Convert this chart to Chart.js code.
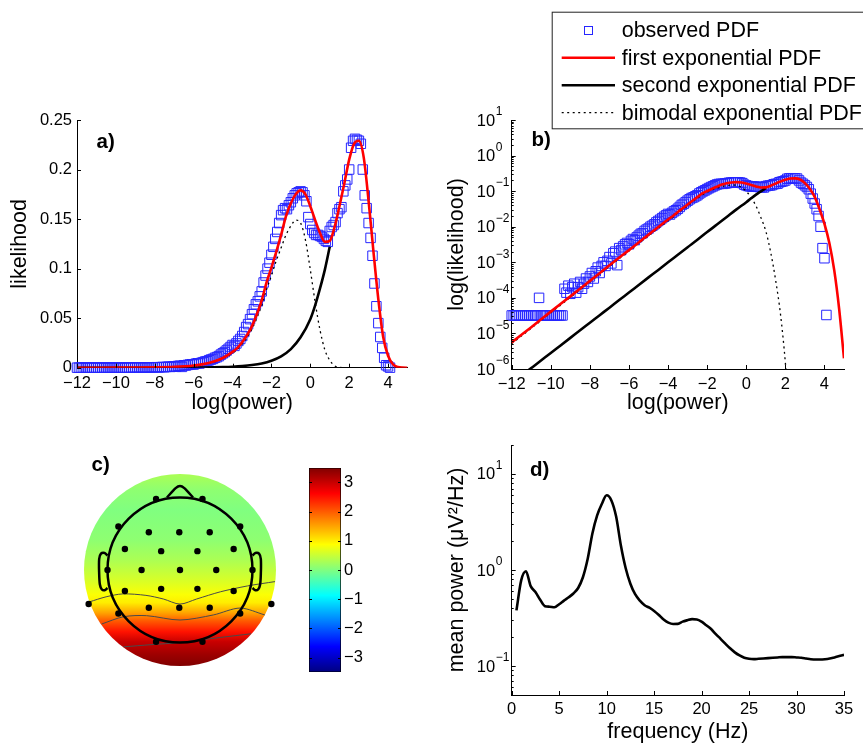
<!DOCTYPE html>
<html>
<head>
<meta charset="utf-8">
<script src="https://cdn.jsdelivr.net/npm/chart.js@4/dist/chart.umd.min.js"></script>
<style>
  html, body { margin: 0; padding: 0; background: #fff; }
  body { width: 863px; height: 743px; position: relative; overflow: hidden; }
  canvas { position: absolute; }
</style>
</head>
<body>
<canvas id="chart-a" width="425" height="320" style="left:0;top:100px"></canvas>
<canvas id="chart-b" width="443" height="420" style="left:420px;top:0"></canvas>
<canvas id="chart-c" width="300" height="262" style="left:0;top:440px"></canvas>
<canvas id="chart-cbar" width="80" height="230" style="left:300px;top:455px"></canvas>
<canvas id="chart-d" width="443" height="323" style="left:420px;top:420px"></canvas>
<script>
// Panels a) and b): distribution of log(power)

// observed PDF (bin centres and likelihood)
const obsX = [
  -12.0, -11.9, -11.8, -11.7, -11.6, -11.5, -11.4, -11.3, -11.2, -11.1,
  -11.0, -10.9, -10.8, -10.7, -10.6, -10.5, -10.4, -10.3, -10.2, -10.1,
  -10.0, -9.9, -9.8, -9.7, -9.6, -9.5, -9.4, -9.3, -9.2, -9.1,
  -9.0, -8.9, -8.8, -8.7, -8.6, -8.5, -8.4, -8.3, -8.2, -8.1,
  -8.0, -7.9, -7.8, -7.7, -7.6, -7.5, -7.4, -7.3, -7.2, -7.1,
  -7.0, -6.9, -6.8, -6.7, -6.6, -6.5, -6.4, -6.3, -6.2, -6.1,
  -6.0, -5.9, -5.8, -5.7, -5.6, -5.5, -5.4, -5.3, -5.2, -5.1,
  -5.0, -4.9, -4.8, -4.7, -4.6, -4.5, -4.4, -4.3, -4.2, -4.1,
  -4.0, -3.9, -3.8, -3.7, -3.6, -3.5, -3.4, -3.3, -3.2, -3.1,
  -3.0, -2.9, -2.8, -2.7, -2.6, -2.5, -2.4, -2.3, -2.2, -2.1,
  -2.0, -1.9, -1.8, -1.7, -1.6, -1.5, -1.4, -1.3, -1.2, -1.1,
  -1.0, -0.9, -0.8, -0.7, -0.6, -0.5, -0.4, -0.3, -0.2, -0.1,
  0.0, 0.1, 0.2, 0.3, 0.4, 0.5, 0.6, 0.7, 0.8, 0.9,
  1.0, 1.1, 1.2, 1.3, 1.4, 1.5, 1.6, 1.7, 1.8, 1.9,
  2.0, 2.1, 2.2, 2.3, 2.4, 2.5, 2.6, 2.7, 2.8, 2.9,
  3.0, 3.1, 3.2, 3.3, 3.4, 3.5, 3.6, 3.7, 3.8, 3.9,
  4.0, 4.1
];
const obsY = [
  3.2e-5, 3.2e-5, 3.2e-5, 3.2e-5, 3.2e-5, 3.2e-5, 3.2e-5, 3.2e-5, 3.2e-5, 3.2e-5,
  3.2e-5, 3.2e-5, 3.2e-5, 3.2e-5, 1.0e-4, 3.2e-5, 3.2e-5, 3.2e-5, 3.2e-5, 3.2e-5,
  3.2e-5, 3.2e-5, 3.2e-5, 3.2e-5, 3.2e-5, 3.2e-5, 3.2e-5, 1.8e-4, 1.4e-4, 2.2e-4,
  1.3e-4, 2.0e-4, 2.5e-4, 1.4e-4, 2.0e-4, 2.8e-4, 1.8e-4, 2.5e-4, 3.5e-4, 2.8e-4,
  4.0e-4, 5.0e-4, 3.5e-4, 5.6e-4, 7.1e-4, 5.0e-4, 7.9e-4, 1.0e-3, 7.9e-4, 1.1e-3,
  1.4e-3, 9.3e-4, 1.8e-3, 2.0e-3, 8.3e-4, 2.5e-3, 2.2e-3, 2.8e-3, 3.2e-3, 3.5e-3,
  3.2e-3, 4.0e-3, 4.5e-3, 4.2e-3, 5.0e-3, 5.6e-3, 6.3e-3, 6.6e-3, 7.6e-3, 8.3e-3,
  8.9e-3, 0.010, 0.0107, 0.0117, 0.0132, 0.0145, 0.0158, 0.0174, 0.0191, 0.0209,
  0.0229, 0.022, 0.0245, 0.027, 0.029, 0.032, 0.036, 0.041, 0.044, 0.049,
  0.054, 0.059, 0.064, 0.067, 0.072, 0.077, 0.086, 0.093, 0.100, 0.106,
  0.114, 0.122, 0.130, 0.137, 0.146, 0.154, 0.159, 0.161, 0.160, 0.164,
  0.167, 0.171, 0.174, 0.176, 0.177, 0.178, 0.177, 0.174, 0.168, 0.152,
  0.145, 0.139, 0.136, 0.134, 0.134, 0.133, 0.132, 0.130, 0.128, 0.127,
  0.138, 0.142, 0.144, 0.147, 0.156, 0.160, 0.162, 0.178, 0.184, 0.190,
  0.200, 0.222, 0.229, 0.231, 0.230, 0.229, 0.226, 0.200, 0.174, 0.161,
  0.146, 0.131, 0.113, 0.085, 0.062, 0.045, 0.031, 0.020, 0.010, 0.0025,
  0.0013, 3.3e-5
];

// fitted curves
const fitX = [
  -12, -11, -10, -9, -8, -7, -6, -5.5, -5, -4.5, -4,
  -3.75, -3.5, -3.25, -3, -2.75, -2.5, -2.25, -2, -1.75, -1.5, -1.25, -1,
  -0.75, -0.5, -0.25, 0, 0.25, 0.5, 0.75, 1, 1.25, 1.5, 1.75, 2,
  2.25, 2.5, 2.75, 3, 3.25, 3.5, 3.75, 4, 4.25, 4.5, 4.75, 5
];
const firstExpY = [
  5.6e-6, 1.5e-5, 4.1e-5, 1.1e-4, 3.0e-4, 8.2e-4, 2.2e-3, 3.6e-3, 6.0e-3, 9.8e-3, 0.016,
  0.020, 0.026, 0.033, 0.042, 0.054, 0.068, 0.086, 0.101, 0.117, 0.134, 0.153, 0.166,
  0.175, 0.179, 0.175, 0.163, 0.149, 0.136, 0.127, 0.128, 0.142, 0.163, 0.186, 0.210,
  0.226, 0.229, 0.212, 0.168, 0.117, 0.069, 0.031, 0.012, 3.5e-3, 6e-4, 5e-5, 2e-6
];
const bimodalY = [
  5.2e-6, 1.4e-5, 3.8e-5, 1.03e-4, 2.8e-4, 7.7e-4, 2.07e-3, 3.4e-3, 5.6e-3, 9.1e-3, 0.0148,
  0.0185, 0.024, 0.0305, 0.039, 0.050, 0.063, 0.079, 0.093, 0.108, 0.121, 0.134, 0.143,
  0.149, 0.146, 0.129, 0.099, 0.066, 0.038, 0.018, 7.5e-3, 1.9e-3, 3.2e-4, 3.5e-5, 1.5e-6,
  2e-8, 1e-10, 1e-12, 1e-14, 1e-16, 1e-18, 1e-20, 1e-22, null, null, null, null
];
const secondX = [
  -12, -11.5, -11, -10.5, -10, -9.5, -9, -8.5, -8, -7.5, -7, -6.5, -6,
  -5.5, -5, -4.5, -4, -3.5, -3, -2.5, -2, -1.5, -1, -0.5, 0, 0.25, 0.5, 0.75, 1
];
const secondExpY = [
  4.0e-7, 6.5e-7, 1.06e-6, 1.73e-6, 2.83e-6, 4.6e-6, 7.5e-6, 1.23e-5, 2.0e-5, 3.26e-5, 5.3e-5, 8.7e-5, 1.41e-4,
  2.31e-4, 3.76e-4, 6.1e-4, 1.0e-3, 1.63e-3, 2.66e-3, 4.3e-3, 7.1e-3, 0.0115, 0.0188, 0.0307, 0.049, 0.063, 0.080, 0.099, 0.122
];

const powerTicks = [-12, -10, -8, -6, -4, -2, 0, 2, 4];
const likelihoodTicks = [0, 0.05, 0.1, 0.15, 0.2, 0.25];
const logLikelihoodExps = [-6, -5, -4, -3, -2, -1, 0, 1];

// Panel c): scalp map
const elecX = [-0.33, 0.31, -0.85, 0.83, -0.43, -0.01, 0.41, -0.76, -0.26, 0.24, 0.74,
  -1.0, -0.53, 0.0, 0.5, 1.0, -0.76, -0.26, 0.24, 0.74, -0.85, -0.43, -0.01, 0.41, 0.83,
  -0.33, 0.31, -1.26, 1.26];
const elecY = [0.98, 0.98, 0.6, 0.6, 0.52, 0.52, 0.52, 0.29, 0.26, 0.26, 0.29,
  0.0, 0.0, 0.0, 0.0, 0.0, -0.29, -0.26, -0.26, -0.29, -0.6, -0.52, -0.52, -0.52, -0.6,
  -0.99, -0.99, -0.47, -0.47];
const contour1X = [-1.25, -1.02, -0.79, -0.47, -0.23, 0.0, 0.23, 0.56, 0.93, 1.31];
const contour1Y = [-0.44, -0.37, -0.33, -0.35, -0.40, -0.47, -0.40, -0.30, -0.22, -0.16];
const contour2X = [-1.08, -0.78, -0.46, 0.0, 0.46, 0.83, 1.17];
const contour2Y = [-0.745, -0.645, -0.63, -0.69, -0.62, -0.525, -0.62];
const contour3X = [-0.78, -0.4, 0.0, 0.56, 0.98];
const contour3Y = [-1.06, -1.03, -1.0, -0.93, -0.88];
const noseX = [-0.18, -0.06, 0.0, 0.06, 0.18];
const noseY = [1.0, 1.13, 1.16, 1.13, 1.0];
const earLX = [-1.0, -1.04, -1.09, -1.115, -1.115, -1.105, -1.08, -1.04, -1.0];
const earLY = [0.2, 0.235, 0.225, 0.15, -0.05, -0.2, -0.265, -0.28, -0.25];
const earRX = [1.0, 1.04, 1.09, 1.115, 1.115, 1.105, 1.08, 1.04, 1.0];
const earRY = [0.2, 0.235, 0.225, 0.15, -0.05, -0.2, -0.265, -0.28, -0.25];
// map value along the vertical axis of the scalp (head units, top to bottom)
const topoRowY = [1.33, 1.10, 0.83, 0.41, 0.14, -0.14, -0.34, -0.45, -0.59, -0.70, -0.85, -0.99, -1.17, -1.33];
const topoRowValue = [0.3, 0.1, 0.0, 0.1, 0.3, 0.6, 0.85, 1.0, 1.5, 2.0, 2.5, 3.0, 3.3, 3.5];
const colorbarTicks = [-3, -2, -1, 0, 1, 2, 3];
const cbarMin = -3.5;
const cbarMax = 3.5;

// Panel d): power spectrum
const freqHz = [
  0.5, 1, 1.5, 2, 2.5, 3, 3.5, 4, 4.5, 5, 5.5, 6, 6.5, 7, 7.5, 8, 8.5, 9, 9.5, 10,
  10.5, 11, 11.5, 12, 12.5, 13, 13.5, 14, 14.5, 15, 15.5, 16, 16.5, 17, 17.5, 18, 18.5, 19, 19.5, 20,
  20.5, 21, 21.5, 22, 22.5, 23, 23.5, 24, 24.5, 25, 25.5, 26, 26.5, 27, 27.5, 28, 28.5, 29, 29.5, 30,
  30.5, 31, 31.5, 32, 32.5, 33, 33.5, 34, 34.5, 35
];
const meanPower = [
  0.38, 0.78, 0.97, 0.68, 0.59, 0.49, 0.42, 0.415, 0.41, 0.44, 0.48, 0.52, 0.57, 0.65, 0.84, 1.3, 2.4, 3.7, 4.9, 6.0,
  5.3, 3.6, 1.8, 1.05, 0.72, 0.56, 0.48, 0.43, 0.405, 0.375, 0.34, 0.305, 0.283, 0.274, 0.275, 0.29, 0.30, 0.308, 0.306, 0.29,
  0.266, 0.243, 0.215, 0.192, 0.171, 0.153, 0.139, 0.129, 0.122, 0.119, 0.118, 0.119, 0.120, 0.121, 0.122, 0.123, 0.124, 0.124, 0.124, 0.123,
  0.122, 0.120, 0.118, 0.117, 0.117, 0.118, 0.120, 0.123, 0.127, 0.131
];
const freqTicks = [0, 5, 10, 15, 20, 25, 30, 35];
const meanPowerExps = [-1, 0, 1];

// ---------------------------------------------------------------

const FONT = "'Liberation Sans', Arial, Helvetica, sans-serif";
Chart.defaults.font.family = FONT;
Chart.defaults.color = '#000';

function fmt(v) {
  return String(v).replace('-', '\u2212');
}

function pairs(xs, ys) {
  return xs.map((x, i) => ({ x: x, y: ys[i] }));
}

function jet(value) {
  const t = (value - cbarMin) / (cbarMax - cbarMin);
  const c = v => Math.round(255 * Math.max(0, Math.min(1, v)));
  return 'rgb(' + c(1.5 - Math.abs(4 * t - 3)) + ',' + c(1.5 - Math.abs(4 * t - 2)) + ',' + c(1.5 - Math.abs(4 * t - 1)) + ')';
}

function minorLogTicks(exps) {
  const out = [];
  exps.forEach(k => {
    for (let m = 2; m <= 9; m++) out.push(m * Math.pow(10, k));
  });
  return out;
}

// tick marks inside the axes, log labels, panel tags and the legend
const matlabLook = {
  id: 'matlabLook',
  afterDraw(chart, args, o) {
    const ctx = chart.ctx;
    const area = chart.chartArea;
    const sx = chart.scales.x;
    const sy = chart.scales.y;
    ctx.save();
    ctx.strokeStyle = '#000';
    ctx.lineWidth = 1;
    ctx.beginPath();
    (o.xTicks || []).forEach(v => {
      const p = Math.round(sx.getPixelForValue(v)) + 0.5;
      ctx.moveTo(p, area.bottom);
      ctx.lineTo(p, area.bottom - 4);
    });
    (o.yTicks || []).forEach(v => {
      const p = Math.round(sy.getPixelForValue(v)) + 0.5;
      ctx.moveTo(area.left, p);
      ctx.lineTo(area.left + 4, p);
    });
    (o.yMinor || []).forEach(v => {
      if (v < sy.min || v > sy.max) return;
      const p = Math.round(sy.getPixelForValue(v)) + 0.5;
      ctx.moveTo(area.left, p);
      ctx.lineTo(area.left + 2, p);
    });
    (o.cbarTicks || []).forEach(v => {
      const p = Math.round(sy.getPixelForValue(v)) + 0.5;
      ctx.moveTo(area.left, p);
      ctx.lineTo(area.left + 3, p);
      ctx.moveTo(area.right, p);
      ctx.lineTo(area.right - 3, p);
    });
    ctx.stroke();

    ctx.fillStyle = '#000';
    ctx.textBaseline = 'middle';
    if (o.logExps) {
      o.logExps.forEach(k => {
        const p = sy.getPixelForValue(Math.pow(10, k));
        ctx.font = '16.5px ' + FONT;
        ctx.textAlign = 'right';
        ctx.fillText('10', area.left - 16.5, p + 1);
        ctx.font = '12px ' + FONT;
        ctx.textAlign = 'left';
        ctx.fillText(fmt(k), area.left - 16, p - 8);
      });
    }
    if (o.tag) {
      ctx.font = 'bold 20.5px ' + FONT;
      ctx.textAlign = 'left';
      ctx.fillText(o.tag.text, o.tag.x, o.tag.y);
    }
    if (o.legend) {
      const L = o.legend;
      ctx.fillStyle = '#fff';
      ctx.fillRect(L.left, L.top, L.width, L.height);
      ctx.strokeStyle = '#222';
      ctx.lineWidth = 1;
      ctx.strokeRect(L.left + 0.5, L.top + 0.5, L.width, L.height);
      chart.data.datasets.forEach((ds, i) => {
        const y = L.top + L.firstRow + i * L.rowGap;
        ctx.save();
        ctx.strokeStyle = ds.borderColor;
        if (ds.showLine === false) {
          ctx.lineWidth = 1;
          const c = (L.lineX0 + L.lineX1) / 2;
          ctx.strokeRect(Math.round(c - 4) + 0.5, Math.round(y - 4) + 0.5, 8, 8);
        } else {
          ctx.lineWidth = ds.borderWidth;
          ctx.setLineDash(ds.borderDash || []);
          ctx.beginPath();
          ctx.moveTo(L.lineX0, y);
          ctx.lineTo(L.lineX1, y);
          ctx.stroke();
        }
        ctx.restore();
        ctx.fillStyle = '#000';
        ctx.font = '21.5px ' + FONT;
        ctx.textAlign = 'left';
        ctx.fillText(ds.label, L.textX, y + 1);
      });
    }
    ctx.restore();
  }
};

// coloured disc and head outline for the scalp map
const topoPlugin = {
  id: 'topo',
  beforeDatasetsDraw(chart, args, o) {
    const xs = chart.scales.x, ys = chart.scales.y, ctx = chart.ctx;
    const cx = xs.getPixelForValue(0), cy = ys.getPixelForValue(0);
    const r = xs.getPixelForValue(o.discRadius) - cx;
    const top = ys.getPixelForValue(o.discRadius);
    const bottom = ys.getPixelForValue(-o.discRadius);
    const grad = ctx.createLinearGradient(0, top, 0, bottom);
    topoRowY.forEach((y, i) => {
      const off = Math.max(0, Math.min(1, (ys.getPixelForValue(y) - top) / (bottom - top)));
      grad.addColorStop(off, jet(topoRowValue[i]));
    });
    ctx.save();
    ctx.beginPath();
    ctx.arc(cx, cy, r, 0, 2 * Math.PI);
    ctx.fillStyle = grad;
    ctx.fill();
    ctx.restore();
  },
  afterDatasetsDraw(chart, args, o) {
    const xs = chart.scales.x, ys = chart.scales.y, ctx = chart.ctx;
    const cx = xs.getPixelForValue(0), cy = ys.getPixelForValue(0);
    const r = xs.getPixelForValue(o.headRadius) - cx;
    ctx.save();
    ctx.beginPath();
    ctx.arc(cx, cy, r, 0, 2 * Math.PI);
    ctx.strokeStyle = '#000';
    ctx.lineWidth = 2.5;
    ctx.stroke();
    ctx.restore();
  }
};

function fixedTicks(values) {
  return scale => { scale.ticks = values.map(v => ({ value: v })); };
}

const tickFont = { size: 16.5 };
const titleFont = { size: 21.5, lineHeight: 1 };
const quietGrid = { display: true, drawOnChartArea: false, drawTicks: false };
const axisBorder = { display: true, color: '#000', width: 1 };

function pdfDatasets() {
  return [
    { label: 'observed PDF', data: pairs(obsX, obsY), showLine: false, pointStyle: 'rect',
      pointRadius: 6.7, pointBorderWidth: 1, borderColor: '#2626ff', backgroundColor: 'rgba(0,0,0,0)',
      clip: false, order: 4 },
    { label: 'first exponential PDF', data: pairs(fitX, firstExpY), showLine: true, borderColor: '#ff0000',
      borderWidth: 2.6, pointRadius: 0, cubicInterpolationMode: 'monotone', order: 1 },
    { label: 'second exponential PDF', data: pairs(secondX, secondExpY), showLine: true, borderColor: '#000000',
      borderWidth: 2.6, pointRadius: 0, cubicInterpolationMode: 'monotone', order: 2 },
    { label: 'bimodal exponential PDF', data: pairs(fitX, bimodalY), showLine: true, borderColor: '#000000',
      borderWidth: 1.3, borderDash: [2, 3.5], pointRadius: 0, cubicInterpolationMode: 'monotone', order: 3 }
  ];
}

const baseOptions = {
  responsive: false,
  maintainAspectRatio: false,
  devicePixelRatio: 1,
  animation: false,
  events: []
};

// a) linear likelihood
new Chart(document.getElementById('chart-a'), {
  type: 'scatter',
  data: { datasets: pdfDatasets() },
  options: Object.assign({}, baseOptions, {
    layout: { padding: { left: 0, top: 20, right: 17.5, bottom: 0 } },
    scales: {
      x: {
        type: 'linear', min: -12, max: 5,
        afterBuildTicks: fixedTicks(powerTicks),
        afterFit: s => { s.height = 52.3; },
        grid: quietGrid, border: axisBorder,
        ticks: { callback: v => fmt(v), font: tickFont, padding: 6, maxRotation: 0, autoSkip: false },
        title: { display: true, text: 'log(power)', font: titleFont, padding: { top: 0, bottom: 6.25 } }
      },
      y: {
        type: 'linear', min: 0, max: 0.25,
        afterBuildTicks: fixedTicks(likelihoodTicks),
        afterFit: s => { s.width = 77; },
        grid: quietGrid, border: axisBorder,
        ticks: { callback: v => fmt(v), font: tickFont, padding: 5, autoSkip: false },
        title: { display: true, text: 'likelihood', font: titleFont, padding: { top: 9.25, bottom: 0 } }
      }
    },
    plugins: {
      legend: { display: false },
      tooltip: { enabled: false },
      matlabLook: { xTicks: powerTicks, yTicks: likelihoodTicks, tag: { text: 'a)', x: 96.5, y: 42.5 } }
    }
  }),
  plugins: [matlabLook]
});

// b) log likelihood, with the shared legend
new Chart(document.getElementById('chart-b'), {
  type: 'scatter',
  data: { datasets: pdfDatasets() },
  options: Object.assign({}, baseOptions, {
    layout: { padding: { left: 0, top: 120, right: 19, bottom: 0 } },
    scales: {
      x: {
        type: 'linear', min: -12, max: 5,
        afterBuildTicks: fixedTicks(powerTicks),
        afterFit: s => { s.height = 51; },
        grid: quietGrid, border: axisBorder,
        ticks: { callback: v => fmt(v), font: tickFont, padding: 6, maxRotation: 0, autoSkip: false },
        title: { display: true, text: 'log(power)', font: titleFont, padding: { top: 0, bottom: 6.25 } }
      },
      y: {
        type: 'logarithmic', min: 1e-6, max: 10,
        afterFit: s => { s.width = 91.7; },
        grid: quietGrid, border: axisBorder,
        ticks: { display: false },
        title: { display: true, text: 'log(likelihood)', font: titleFont, padding: { top: 26, bottom: 0 } }
      }
    },
    plugins: {
      legend: { display: false },
      tooltip: { enabled: false },
      matlabLook: {
        xTicks: powerTicks,
        yTicks: logLikelihoodExps.map(k => Math.pow(10, k)),
        yMinor: minorLogTicks(logLikelihoodExps),
        logExps: logLikelihoodExps,
        tag: { text: 'b)', x: 111.5, y: 140.8 },
        legend: { left: 131.7, top: 11.7, width: 320, height: 116.6, firstRow: 18.5, rowGap: 27.5,
          lineX0: 141.7, lineX1: 195, textX: 201.7 }
      }
    }
  }),
  plugins: [matlabLook]
});

// c) scalp map
function outline(xs, ys, color, width, order) {
  return { data: pairs(xs, ys), showLine: true, borderColor: color, borderWidth: width,
    pointRadius: 0, tension: 0.3, order: order };
}

new Chart(document.getElementById('chart-c'), {
  type: 'scatter',
  data: {
    datasets: [
      { data: pairs(elecX, elecY), pointRadius: 3.2, backgroundColor: '#000', pointBorderWidth: 0, borderWidth: 0, order: 0 },
      outline(noseX, noseY, '#000', 2.5, 1),
      outline(earLX, earLY, '#000', 2.5, 1),
      outline(earRX, earRY, '#000', 2.5, 1),
      outline(contour1X, contour1Y, '#4a4a4a', 1, 2),
      outline(contour2X, contour2Y, '#4a4a4a', 1, 2),
      outline(contour3X, contour3Y, '#4a4a4a', 1, 2)
    ]
  },
  options: Object.assign({}, baseOptions, {
    layout: { padding: 0, autoPadding: false },
    scales: {
      x: { type: 'linear', display: false, min: -2.4828, max: 1.6552 },
      y: { type: 'linear', display: false, min: -1.8207, max: 1.7931 }
    },
    plugins: {
      legend: { display: false },
      tooltip: { enabled: false },
      topo: { discRadius: 1.324, headRadius: 1.0 },
      matlabLook: { tag: { text: 'c)', x: 91.5, y: 25 } }
    }
  }),
  plugins: [topoPlugin, matlabLook]
});

// c) colour bar
new Chart(document.getElementById('chart-cbar'), {
  type: 'bar',
  data: {
    labels: [''],
    datasets: [{
      data: [[cbarMin, cbarMax]],
      backgroundColor: c => {
        const a = c.chart.chartArea;
        if (!a) return '#888';
        const g = c.chart.ctx.createLinearGradient(0, a.bottom, 0, a.top);
        for (let i = 0; i <= 16; i++) {
          g.addColorStop(i / 16, jet(cbarMin + (cbarMax - cbarMin) * i / 16));
        }
        return g;
      },
      borderColor: '#000', borderWidth: 1, borderSkipped: false,
      barPercentage: 1, categoryPercentage: 1
    }]
  },
  options: Object.assign({}, baseOptions, {
    layout: { padding: { left: 9, top: 12.7, right: 0, bottom: 12 } },
    scales: {
      x: { display: false },
      y: {
        position: 'right', min: cbarMin, max: cbarMax,
        afterBuildTicks: fixedTicks(colorbarTicks),
        afterFit: s => { s.width = 39; },
        grid: quietGrid, border: { display: false },
        ticks: { callback: v => fmt(v), font: tickFont, padding: 3, autoSkip: false }
      }
    },
    plugins: {
      legend: { display: false },
      tooltip: { enabled: false },
      matlabLook: { cbarTicks: colorbarTicks }
    }
  }),
  plugins: [matlabLook]
});

// d) mean power spectrum
new Chart(document.getElementById('chart-d'), {
  type: 'scatter',
  data: {
    datasets: [{
      data: pairs(freqHz, meanPower), showLine: true, borderColor: '#000', borderWidth: 2.6,
      pointRadius: 0, cubicInterpolationMode: 'monotone'
    }]
  },
  options: Object.assign({}, baseOptions, {
    layout: { padding: { left: 0, top: 25, right: 19, bottom: 0 } },
    scales: {
      x: {
        type: 'linear', min: 0, max: 35,
        afterBuildTicks: fixedTicks(freqTicks),
        afterFit: s => { s.height = 48; },
        grid: quietGrid, border: axisBorder,
        ticks: { callback: v => fmt(v), font: tickFont, padding: 5, maxRotation: 0, autoSkip: false },
        title: { display: true, text: 'frequency (Hz)', font: titleFont, padding: { top: 0, bottom: 0.5 } }
      },
      y: {
        type: 'logarithmic', min: 0.05, max: 20,
        afterFit: s => { s.width = 91.7; },
        grid: quietGrid, border: axisBorder,
        ticks: { display: false },
        title: { display: true, text: 'mean power (\u03bcV\u00b2/Hz)', font: titleFont, padding: { top: 26, bottom: 0 } }
      }
    },
    plugins: {
      legend: { display: false },
      tooltip: { enabled: false },
      matlabLook: {
        xTicks: freqTicks,
        yTicks: meanPowerExps.map(k => Math.pow(10, k)),
        yMinor: minorLogTicks([-2, -1, 0, 1]),
        logExps: meanPowerExps,
        tag: { text: 'd)', x: 110, y: 50.5 }
      }
    }
  }),
  plugins: [matlabLook]
});
</script>
</body>
</html>
